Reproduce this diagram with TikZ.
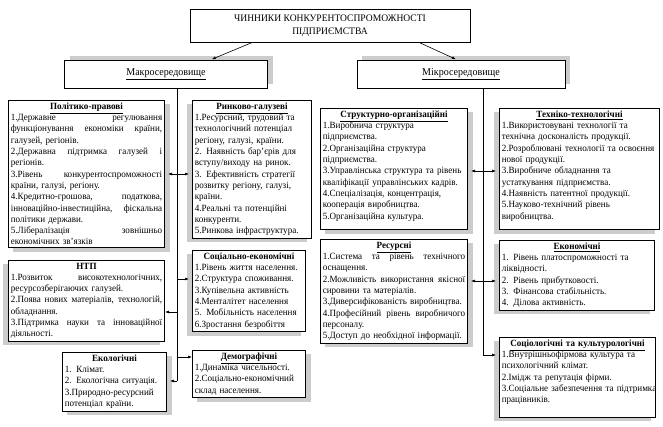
\documentclass[tikz,border=0pt]{standalone}
\usepackage{fontspec}
\setmainfont{Liberation Serif}[FakeStretch=0.955]
\usetikzlibrary{shadows,arrows.meta,calc}
\newcommand\LL[1]{\makebox[\linewidth][l]{#1}}
\newcommand\JJ[1]{{\spaceskip=0pt\xspaceskip=0pt\makebox[\linewidth][s]{#1}}}
\newcommand\HH[1]{\makebox[\linewidth][c]{\textbf{\underline{#1}}}}
\newcommand\HB[1]{\makebox[\linewidth][c]{\textbf{#1}}}
\tikzset{
  box/.style={draw, fill=white, line width=0.6pt, anchor=north west,
    inner xsep=2.5pt, inner ysep=2.5pt, align=left,
    font=\fontsize{9.5}{11.3}\selectfont},
  shR/.style={drop shadow={shadow xshift=5pt, shadow yshift=-4pt, fill=gray!40, opacity=1}},
  shL/.style={drop shadow={shadow xshift=-5pt, shadow yshift=-4pt, fill=gray!40, opacity=1}},
  shU/.style={drop shadow={shadow xshift=5pt, shadow yshift=4pt, fill=gray!40, opacity=1}},
  headbox/.style={draw, fill=white, line width=0.6pt, align=center},
  arr/.style={-{Latex[length=4pt,width=3pt]}, line width=0.6pt},
  darr/.style={{Latex[length=4pt,width=3pt]}-{Latex[length=4pt,width=3pt]}, line width=0.6pt},
  ln/.style={line width=0.6pt}
}
\begin{document}
\begin{tikzpicture}[x=1pt,y=-1pt]
\useasboundingbox (0,0) rectangle (663,427);

% top level
\node[headbox, minimum width=280pt, minimum height=33pt,
  font=\fontsize{10}{13}\selectfont] (title) at (330,26)
  {ЧИННИКИ КОНКУРЕНТОСПРОМОЖНОСТІ\\ПІДПРИЄМСТВА};
\node[headbox, shU, minimum width=203pt, minimum height=28pt,
  font=\fontsize{10.5}{12}\selectfont] (macro) at (166,74) {\underline{Макросередовище}};
\node[headbox, shU, minimum width=208pt, minimum height=28pt,
  font=\fontsize{10.5}{12}\selectfont] (micro) at (461,74) {\underline{Мікросередовище}};

% left column
\node[box, shR, text width=151.4pt] (pol) at (8,100) {%
\HH{Політико-правові}\\
\JJ{1.Державне регулювання}\\
\JJ{функціонування економіки країни,}\\
\LL{галузей, регіонів.}\\
\JJ{2.Державна підтримка галузей і}\\
\LL{регіонів.}\\
\JJ{3.Рівень конкурентоспроможності}\\
\LL{країни, галузі, регіону.}\\
\JJ{4.Кредитно-грошова, податкова,}\\
\JJ{інноваційно-інвестиційна, фіскальна}\\
\LL{політики держави.}\\
\JJ{5.Лібералізація зовнішньо}\\
\LL{економічних зв’язків}};

\node[box, shL, text width=114.4pt] (rin) at (192,100) {%
\HH{Ринково-галузеві}\\
\LL{1.Ресурсний, трудовий та}\\
\LL{технологічний  потенціал}\\
\LL{регіону, галузі,  країни.}\\
\LL{2. Наявність бар’єрів для}\\
\LL{вступу/виходу на ринок.}\\
\LL{3. Ефективність стратегії}\\
\LL{розвитку регіону, галузі,}\\
\LL{країни.}\\
\LL{4.Реальні та потенційні}\\
\LL{конкуренти.}\\
\LL{5.Ринкова інфраструктура.}};

\node[box, shL, text width=151.4pt] (ntp) at (8,260) {%
\HB{НТП}\\
\JJ{1.Розвиток високотехнологічних,}\\
\LL{ресурсозберігаючих галузей.}\\
\JJ{2.Поява нових матеріалів, технологій,}\\
\LL{обладнання.}\\
\JJ{3.Підтримка науки та інноваційної}\\
\LL{діяльності.}};

\node[box, shL, text width=108.4pt] (soc) at (192,250) {%
\HB{Соціально-економічні}\\
\LL{1.Рівень життя населення.}\\
\LL{2.Структура споживання.}\\
\LL{3.Купівельна активність}\\
\LL{4.Менталітет населення}\\
\LL{5. Мобільність населення}\\
\LL{6.Зростання безробіття}};

\node[box, shR, text width=99.4pt] (eco) at (62,352) {%
\HB{Екологічні}\\
\LL{1. Клімат.}\\
\LL{2. Екологічна ситуація.}\\
\LL{3.Природно-ресурсний}\\
\LL{потенціал країни.}};

\node[box, shR, text width=108.4pt] (dem) at (192,350) {%
\HH{Демографічні}\\
\LL{1.Динаміка чисельності.}\\
\LL{2.Соціально-економічний}\\
\LL{склад населення.}};

% right column
\node[box, shR, text width=142.4pt] (str) at (320,108) {%
\HH{Структурно-організаційні}\\
\LL{1.Виробнича структура}\\
\LL{підприємства.}\\
\LL{2.Організаційна структура}\\
\LL{підприємства.}\\
\LL{3.Управлінська структура та рівень}\\
\LL{кваліфікації управлінських кадрів.}\\
\LL{4.Спеціалізація, концентрація,}\\
\LL{кооперація виробництва.}\\
\LL{5.Організаційна культура.\rule[-8pt]{0pt}{1pt}}};

\node[box, shL, text width=155.4pt] (teh) at (499,108) {%
\HH{Техніко-технологічні}\\
\LL{1.Використовувані технології та}\\
\LL{технічна досконалість продукції.}\\
\LL{2.Розроблювані технології та освоєння}\\
\LL{нової продукції.}\\
\LL{3.Виробниче обладнання та}\\
\LL{устаткування підприємства.}\\
\LL{4.Наявність патентної продукції.}\\
\LL{5.Науково-технічний рівень}\\
\LL{виробництва.\rule[-8pt]{0pt}{1pt}}};

\node[box, shR, text width=142.4pt] (res) at (320,239) {%
\HH{Ресурсні}\\
\JJ{1.Система та рівень технічного}\\
\LL{оснащення.}\\
\JJ{2.Можливість використання якісної}\\
\LL{сировини та матеріалів.}\\
\LL{3.Диверсифікованість виробництва.}\\
\JJ{4.Професійний рівень виробничого}\\
\LL{персоналу.}\\
\LL{5.Доступ до необхідної інформації.}};

\node[box, shL, text width=150.4pt] (ekn) at (499,240) {%
\HH{Економічні}\\
\LL{1. Рівень платоспроможності та}\\
\LL{ліквідності.}\\
\LL{2. Рівень прибутковості.}\\
\LL{3. Фінансова стабільність.}\\
\LL{4. Ділова активність.}};

\node[box, shL, text width=151.4pt] (scl) at (499,337) {%
\HH{Соціологічні та культурологічні}\\
\LL{1.Внутрішньофірмова культура та}\\
\LL{психологічний клімат.}\\
\LL{2.Імідж та репутація фірми.}\\
\LL{3.Соціальне забезпечення та підтримка}\\
\LL{працівників.\rule[-12pt]{0pt}{1pt}}};

% connectors from title
\draw[arr, shorten >=1pt] ($(title.south west)!0.22!(title.south east)$) -- ($(macro.north west)!0.72!(macro.north east)$);
\draw[arr, shorten >=1pt] ($(title.south west)!0.82!(title.south east)$) -- ($(micro.north west)!0.48!(micro.north east)$);

% left trunk
\coordinate (lt) at (177,381);
\coordinate (l1) at (177,174);
\coordinate (l2) at (177,279);
\coordinate (l3) at (177,312);
\coordinate (l4) at (177,357);
\draw[ln] (macro.south -| lt) -- (lt);
\draw[arr, shorten >=3pt] (l1) -- (l1 -| pol.east);
\draw[arr, shorten >=3pt] (l1) -- (l1 -| rin.west);
\draw[arr, shorten >=3pt] (l2) -- (l2 -| soc.west);
\draw[arr] (l3) -- (l3 -| ntp.east);
\draw[arr] (l4) -- (l4 -| dem.west);
\draw[arr, shorten >=3pt] (lt) -- (lt -| eco.east);

% right trunk
\coordinate (rt) at (483,355);
\coordinate (r1) at (483,171);
\coordinate (r2) at (483,281);
\draw[ln] (micro.south -| rt) -- (rt);
\draw[darr, shorten >=3pt, shorten <=3pt] (r1 -| str.east) -- (r1 -| teh.west);
\draw[darr, shorten >=3pt, shorten <=3pt] (r2 -| res.east) -- (r2 -| ekn.west);
\draw[arr, shorten >=3pt] (rt) -- (rt -| scl.west);
\end{tikzpicture}
\end{document}
